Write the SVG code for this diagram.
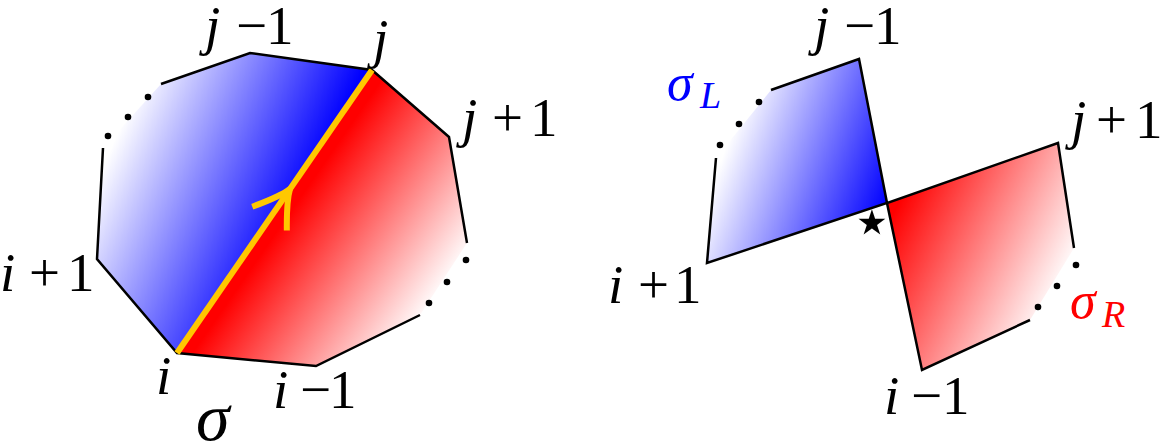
<svg xmlns="http://www.w3.org/2000/svg" width="1169" height="444" viewBox="0 0 1169 444">
<style>
.edge{fill:none;stroke:#000;stroke-width:2.5;stroke-linejoin:miter}
.lbl{font-family:"Liberation Serif",serif;font-size:55px;fill:#000}
.it{font-style:italic}
.dot{fill:#000}
</style>
<defs>
<linearGradient id="gBlueL" gradientUnits="userSpaceOnUse" x1="147.7" y1="66.4" x2="328.3" y2="147.6">
<stop offset="0" stop-color="#fff"/><stop offset="1" stop-color="#00f"/>
</linearGradient>
<linearGradient id="gRedL" gradientUnits="userSpaceOnUse" x1="295" y1="205" x2="435" y2="302">
<stop offset="0" stop-color="#f00"/><stop offset="1" stop-color="#fff"/>
</linearGradient>
<linearGradient id="gBlueR" gradientUnits="userSpaceOnUse" x1="725" y1="150" x2="885" y2="210">
<stop offset="0" stop-color="#fff"/><stop offset="1" stop-color="#00f"/>
</linearGradient>
<linearGradient id="gRedR" gradientUnits="userSpaceOnUse" x1="895" y1="210" x2="1060" y2="290">
<stop offset="0" stop-color="#f00"/><stop offset="1" stop-color="#fff"/>
</linearGradient>
</defs>

<g id="sigma">
<polygon points="97,259 103,148 161,84 250,53 372,70 177,353" fill="url(#gBlueL)"/>
<polygon points="177,353 372,70 449,137 467,243 420,315 316,366" fill="url(#gRedL)"/>
<polyline class="edge" points="103,148 97,259 177,353 316,366 420,315"/>
<polyline class="edge" points="161,84 250,53 372,70 449,137 467,243"/>
<circle class="dot" cx="108" cy="136" r="3.3"/>
<circle class="dot" cx="128" cy="117" r="3.3"/>
<circle class="dot" cx="148" cy="97" r="3.3"/>
<circle class="dot" cx="466" cy="260" r="3.3"/>
<circle class="dot" cx="447" cy="282" r="3.3"/>
<circle class="dot" cx="429" cy="303" r="3.3"/>
<line x1="177" y1="353" x2="372" y2="70" stroke="#ffc800" stroke-width="6"/>
<path d="M-36,-21 Q-12,-4 0,0 Q-12,4 -36,21" transform="translate(290,189) rotate(-55.4)" fill="none" stroke="#ffc800" stroke-width="6"/>
<text class="lbl"><tspan class="it" x="205" y="44">j</tspan><tspan x="236" y="44">−</tspan><tspan x="266" y="44">1</tspan></text>
<text class="lbl it" x="373" y="57">j</text>
<text class="lbl"><tspan class="it" x="462" y="136">j</tspan><tspan x="492" y="136">+</tspan><tspan x="530" y="136">1</tspan></text>
<text class="lbl"><tspan class="it" x="0" y="291">i</tspan><tspan x="29" y="291">+</tspan><tspan x="67" y="291">1</tspan></text>
<text class="lbl it" x="156" y="394">i</text>
<text class="lbl"><tspan class="it" x="273" y="408">i</tspan><tspan x="300" y="408">−</tspan><tspan x="329" y="408">1</tspan></text>
<text class="lbl it" x="196" y="440" style="font-size:68px">σ</text>
</g>

<g id="sigmaL">
<polygon points="707,263 716,158 771,90 859,59 887,203" fill="url(#gBlueR)"/>
<polyline class="edge" points="716,158 707,263 887,203 859,59 771,90"/>
<circle class="dot" cx="759" cy="102" r="3.3"/>
<circle class="dot" cx="739" cy="124" r="3.3"/>
<circle class="dot" cx="720" cy="145" r="3.3"/>
<text class="lbl it" x="667" y="100" style="font-size:52px;fill:#00f">σ</text>
<text class="lbl it" x="700" y="108" style="font-size:38px;fill:#00f">L</text>
<text class="lbl"><tspan class="it" x="814" y="44">j</tspan><tspan x="844" y="44">−</tspan><tspan x="874" y="44">1</tspan></text>
<text class="lbl"><tspan class="it" x="608" y="303">i</tspan><tspan x="638" y="303">+</tspan><tspan x="674" y="303">1</tspan></text>
</g>

<g id="sigmaR">
<polygon points="887,203 1058,143 1074,248 1030,320 922,370" fill="url(#gRedR)"/>
<polyline class="edge" points="1074,248 1058,143 887,203 922,370 1030,320"/>
<circle class="dot" cx="1076" cy="265" r="3.3"/>
<circle class="dot" cx="1057" cy="286" r="3.3"/>
<circle class="dot" cx="1038" cy="307" r="3.3"/>
<text class="lbl it" x="1070" y="318" style="font-size:52px;fill:#f00">σ</text>
<text class="lbl it" x="1102" y="327" style="font-size:38px;fill:#f00">R</text>
<text class="lbl"><tspan class="it" x="1071" y="138">j</tspan><tspan x="1096" y="138">+</tspan><tspan x="1135" y="138">1</tspan></text>
<text class="lbl"><tspan class="it" x="884" y="414">i</tspan><tspan x="911" y="414">−</tspan><tspan x="942" y="414">1</tspan></text>
</g>

<g id="star">
<text x="872" y="245" text-anchor="middle" style="font-family:'DejaVu Sans',sans-serif;font-size:70px;fill:#000">⋆</text>
</g>
</svg>
